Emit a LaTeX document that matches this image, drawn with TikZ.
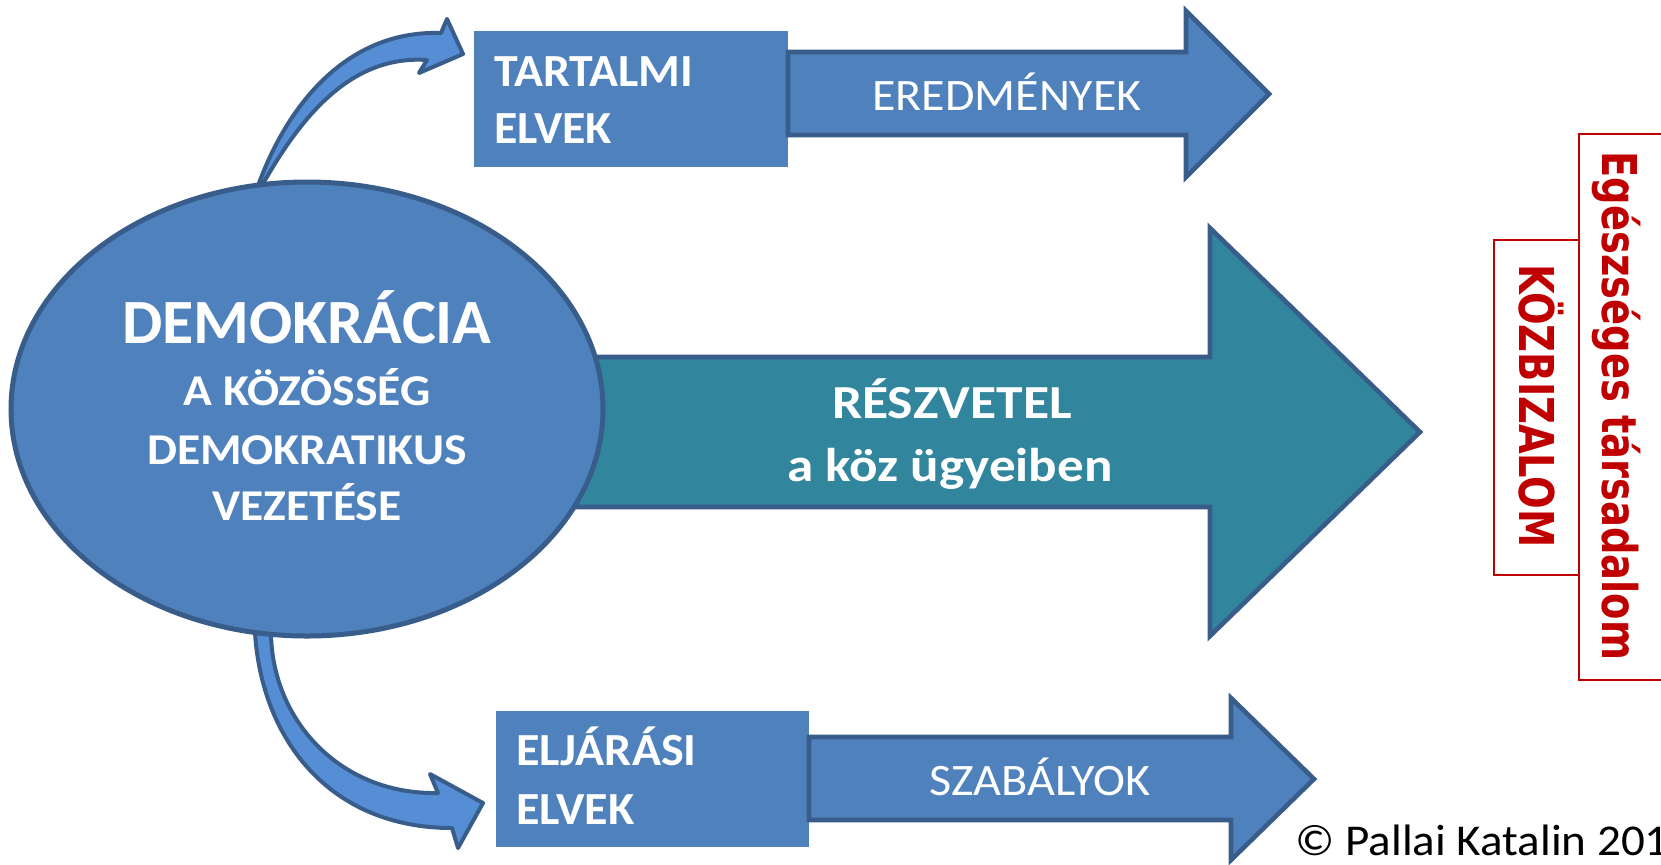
\documentclass[tikz,border=0pt]{standalone}
\usepackage{fontspec}
\setmainfont{Carlito}
\newfontfamily\redfont{DejaVu Sans}
\usetikzlibrary{shapes.geometric}
\definecolor{boxblue}{HTML}{4F81BD}
\definecolor{edgeblue}{HTML}{385D8A}
\definecolor{tealarrow}{HTML}{31859C}
\definecolor{curveblue}{HTML}{558ED5}
\definecolor{darkred}{HTML}{C00000}
\newcommand{\wideby}[2]{\scalebox{#1}[1]{#2}}
\begin{document}
\begin{tikzpicture}[x=0.5pt,y=-0.5pt,
  blockarrow/.style={fill=boxblue,draw=edgeblue,line width=2.3pt,line join=miter},
  bigarrow/.style={fill=tealarrow,draw=edgeblue,line width=2.3pt,line join=miter},
  curvearrow/.style={fill=curveblue,draw=edgeblue,line width=2pt,line join=round},
  plainbox/.style={fill=boxblue},
  redbox/.style={draw=darkred,line width=1pt},
  txt/.style={inner sep=0pt,anchor=base,text=white},
  bigbold/.style={txt,font=\fontsize{31.5}{36}\selectfont\bfseries},
  midbold/.style={txt,font=\fontsize{22}{26}\selectfont\bfseries},
  boxbold/.style={txt,anchor=base west,font=\fontsize{23}{27}\selectfont\bfseries},
  arrowtxt/.style={txt,font=\fontsize{22.5}{27}\selectfont},
  teal txt/.style={txt,font=\fontsize{23.7}{28}\selectfont\bfseries},
  redtxt/.style={inner sep=0pt,anchor=base,rotate=-90,text=darkred,font=\redfont\fontsize{24}{28}\selectfont\bfseries}
]
\useasboundingbox[fill=white] (0,0) rectangle (1661,864);

% central teal arrow
\draw[bigarrow] (500,357) -- (1210,357) -- (1210,228) -- (1420,432) -- (1210,636) -- (1210,507) -- (500,507) -- cycle;

% curved arrows
\draw[curvearrow] (259,183) .. controls (290,100) and (350,30) .. (441,33) -- (447,19) -- (463,54) -- (419,73) -- (427,60) .. controls (355,55) and (305,110) .. (264,182) -- cycle;
\draw[curvearrow] (255,633) .. controls (262,740) and (330,828) .. (452,828) -- (458,848) -- (483,803) -- (430,774) -- (438,793) .. controls (340,795) and (272,720) .. (271,633) -- cycle;

% ellipse
\node (demo) [ellipse, fill=boxblue, draw=edgeblue, line width=2.5pt, minimum width=296pt, minimum height=227pt, inner sep=0pt] at (307,409) {};

% boxes
\fill[plainbox] (474,31) rectangle (788,167);
\fill[plainbox] (496,711) rectangle (809,847);

% block arrows
\draw[blockarrow] (788,52) -- (1186,52) -- (1186,11) -- (1269,94) -- (1186,177) -- (1186,135) -- (788,135) -- cycle;
\draw[blockarrow] (809,737) -- (1231,737) -- (1231,698) -- (1314,779) -- (1231,860) -- (1231,820) -- (809,820) -- cycle;

% red boxes
\draw[redbox] (1494,240) rectangle (1579,575);
\draw[redbox] (1579,134) rectangle (1700,680);

% texts
\node[bigbold] (t1) at (307,343) {\wideby{1.015}{DEMOKRÁCIA}};
\node[midbold] (t2) at (307,405) {\wideby{1.08}{A KÖZÖSSÉG}};
\node[midbold] (t3) at (307,464) {\wideby{1.08}{DEMOKRATIKUS}};
\node[midbold] (t4) at (307,520) {\wideby{1.08}{VEZETÉSE}};

\node[boxbold] (ta1) at (494,86) {\wideby{1.04}{TARTALMI}};
\node[boxbold] (ta2) at (494,143) {\wideby{1.04}{ELVEK}};
\node[boxbold] (el1) at (516,765) {\wideby{1.045}{ELJÁRÁSI}};
\node[boxbold] (el2) at (516,824) {\wideby{1.045}{ELVEK}};

\node[arrowtxt] (er) at (1007,110) {\wideby{1.065}{EREDMÉNYEK}};
\node[arrowtxt] (sz) at (1040,795) {\wideby{1.07}{SZABÁLYOK}};

\node[teal txt] (r1) at (952,418) {\wideby{1.13}{RÉSZVETEL}};
\node[teal txt] (r2) at (950,481) {\wideby{1.12}{a köz ügyeiben}};

\node[redtxt] (eg) at (1602,406) {\scalebox{0.8}[1]{Egészséges társadalom}};
\node[redtxt] (kb) at (1519,406) {\scalebox{0.8}[1]{KÖZBIZALOM}};

\node[inner sep=0pt,anchor=base west,font=\fontsize{22}{26}\selectfont] (copy) at (1295,855) {\wideby{1.07}{© Pallai Katalin 2013}};
\end{tikzpicture}
\end{document}
